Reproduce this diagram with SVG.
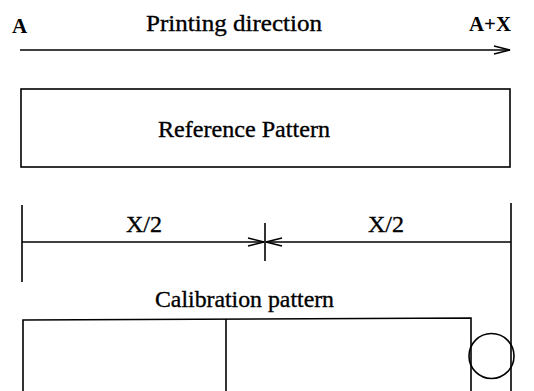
<svg xmlns="http://www.w3.org/2000/svg" width="534" height="391" viewBox="0 0 534 391">
<style>
.ln{stroke:#000;stroke-width:1.6;fill:none}
.t{font-family:"Liberation Serif","Times New Roman",serif;font-size:24px;fill:#000;stroke:#000;stroke-width:0.35}
.b{font-weight:bold;font-size:21px;stroke-width:0}
</style>
<defs>
<marker id="ah" markerWidth="18" markerHeight="10" refX="17" refY="5" orient="auto" markerUnits="userSpaceOnUse">
<path d="M1,1 L17,5 L1,9" fill="none" stroke="#000" stroke-width="1.6"/>
</marker>
</defs>
<rect width="534" height="391" fill="#fff"/>
<g id="labels">
<text class="t b" x="12" y="33">A</text>
<text class="t" x="146" y="31" textLength="176" lengthAdjust="spacingAndGlyphs">Printing direction</text>
<text class="t b" x="469" y="31" textLength="42" lengthAdjust="spacingAndGlyphs">A+X</text>
</g>
<g id="reference-pattern">
<rect class="ln" x="21" y="89" width="489" height="78"/>
<text class="t" x="158" y="137" textLength="172" lengthAdjust="spacingAndGlyphs">Reference Pattern</text>
</g>
<g id="dimension">
<line class="ln" x1="22" y1="205" x2="22" y2="282"/>
<line class="ln" x1="511" y1="203" x2="511" y2="391"/>
<line class="ln" x1="265" y1="223" x2="265" y2="261"/>
<text class="t" x="126" y="232" textLength="36" lengthAdjust="spacingAndGlyphs">X/2</text>
<text class="t" x="368" y="232" textLength="36" lengthAdjust="spacingAndGlyphs">X/2</text>
</g>
<g id="calibration-pattern">
<text class="t" x="155" y="307" textLength="179" lengthAdjust="spacingAndGlyphs">Calibration pattern</text>
<polyline class="ln" points="23,391 23,320 471,318 471,391"/>
<line class="ln" x1="226" y1="319" x2="226" y2="391"/>
<circle class="ln" cx="491.5" cy="356" r="22.5"/>
</g>
<g id="connectors">
<line class="ln" x1="20" y1="50" x2="510" y2="50" marker-end="url(#ah)"/>
<line class="ln" x1="22" y1="242" x2="264" y2="242" marker-end="url(#ah)"/>
<line class="ln" x1="511" y1="242" x2="266" y2="242" marker-end="url(#ah)"/>
</g>
</svg>
